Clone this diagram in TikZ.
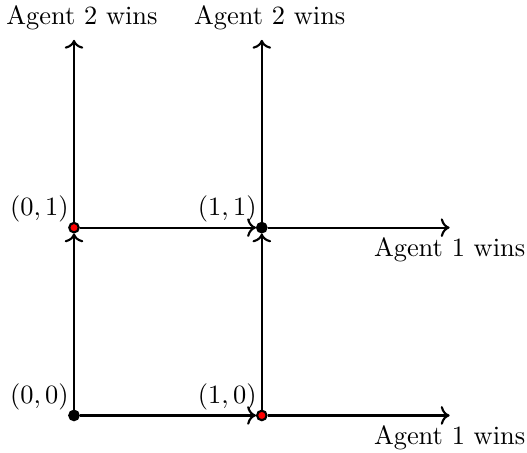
\documentclass[tikz,border=0pt]{standalone}
\usepackage{amsmath}
\usepackage{tikz}
\usetikzlibrary{arrows}
\usetikzlibrary{arrows.meta}
\tikzset{blackpt/.style={circle,draw,fill=black,inner sep=0pt,minimum size=3.6pt},
redpt/.style={circle,draw,fill=red,inner sep=0pt,minimum size=3.6pt},
ptlabel/.style={above left,inner sep=1.6pt}}

\begin{document}
\begin{tikzpicture}[x=2.5cm,y=2.5cm,thick]
\useasboundingbox (-0.394,-0.196) rectangle (2.412,2.212);
\node[blackpt] (a) at (0,0) {};
\node[redpt] (b) at (1,0) {};
\node[redpt] (c) at (0,1) {};
\node[blackpt] (d) at (1,1) {};
\coordinate (b1) at (2,0);
\coordinate (c2) at (0,2);
\coordinate (d1) at (2,1);
\coordinate (d2) at (1,2);
\node[ptlabel] (la) at (a.center) {$(0,0)$};
\node[ptlabel] (lb) at (b.center) {$(1,0)$};
\node[ptlabel] (lc) at (c.center) {$(0,1)$};
\node[ptlabel] (ld) at (d.center) {$(1,1)$};
\path[->] (a) edge (b) edge (c);
\path[->] (c) edge (d) edge (c2);
\path[->] (b) edge (d) edge (b1);
\path[->] (d) edge (d1) edge (d2);
\node[above,xshift=3pt] (wc) at (c2) {Agent 2 wins};
\node[above,xshift=3pt] (wd) at (d2) {Agent 2 wins};
\node[below] (wb) at (b1) {Agent 1 wins};
\node[below] (we) at (d1) {Agent 1 wins};
\end{tikzpicture}
\end{document}
